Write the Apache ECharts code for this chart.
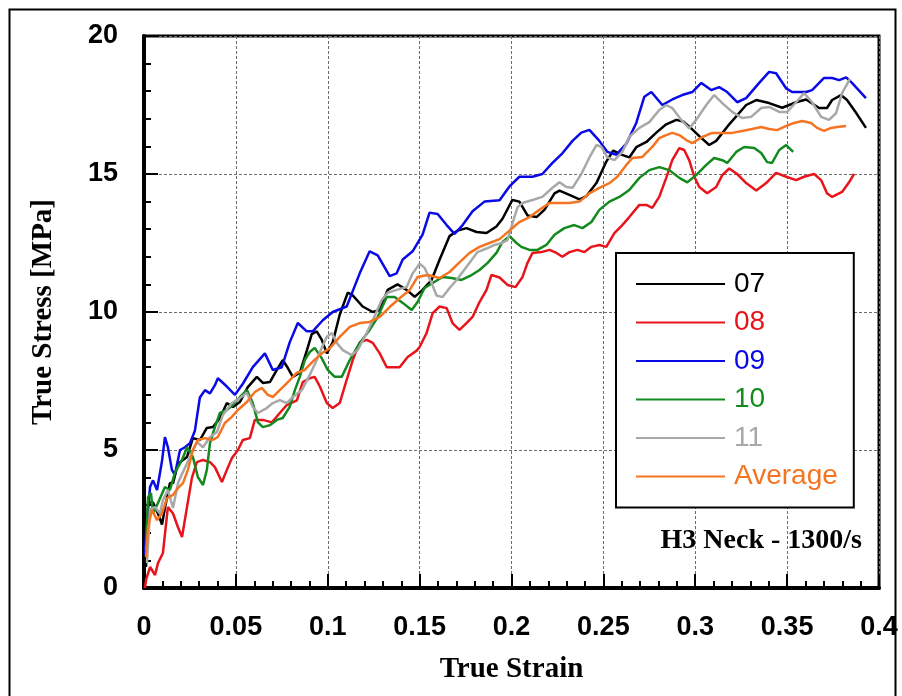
<!DOCTYPE html>
<html>
<head>
<meta charset="utf-8">
<script src="https://cdn.jsdelivr.net/npm/echarts@6/dist/echarts.min.js"></script>
<style>html,body{margin:0;padding:0;background:#fff}#c{width:902px;height:696px}</style>
</head>
<body>
<div id="c"></div>
<script>
const seriesNames = ['07', '08', '09', '10', '11', 'Average'];
const seriesColors = ['#000000', '#e8141c', '#0a0ae6', '#128a1e', '#a8a8a8', '#f57421'];
const xTicks = [0, 0.05, 0.1, 0.15, 0.2, 0.25, 0.3, 0.35, 0.4];
const yTicks = [0, 5, 10, 15, 20];

const s07 = [[0.0011,0.76],[0.0022,3.1],[0.0049,3.1],[0.0076,2.7],[0.0098,2.3],[0.0114,2.9],[0.0141,3.8],[0.0158,3.8],[0.0185,4.5],[0.0234,4.75],[0.0266,5.43],[0.0304,5.36],[0.0342,5.8],[0.0375,5.83],[0.0413,6.15],[0.0451,6.7],[0.0484,6.56],[0.0522,6.74],[0.0565,7.28],[0.0614,7.65],[0.0647,7.43],[0.0685,7.46],[0.0723,7.9],[0.0755,8.26],[0.0783,7.97],[0.081,7.65],[0.0848,7.8],[0.0886,8.6],[0.0913,9.2],[0.094,9.3],[0.0967,9.0],[0.0995,8.5],[0.1027,8.9],[0.1065,9.9],[0.1109,10.7],[0.1136,10.6],[0.119,10.2],[0.1245,10.0],[0.1283,10.07],[0.1326,10.8],[0.138,11.0],[0.1429,10.8],[0.1473,10.55],[0.1516,10.8],[0.1565,11.16],[0.1609,11.9],[0.1663,12.75],[0.1707,12.95],[0.1755,13.04],[0.181,12.9],[0.1864,12.86],[0.1918,13.1],[0.1951,13.38],[0.2005,14.06],[0.2043,14.0],[0.2087,13.5],[0.2136,13.44],[0.2179,13.7],[0.2234,14.3],[0.2261,14.4],[0.2315,14.24],[0.237,14.08],[0.2408,14.2],[0.2462,14.67],[0.2516,15.45],[0.2554,15.85],[0.2598,15.7],[0.2641,15.6],[0.2679,15.97],[0.2734,16.16],[0.2788,16.5],[0.2842,16.8],[0.2897,16.96],[0.2935,16.9],[0.2978,16.65],[0.3022,16.37],[0.3076,16.05],[0.3114,16.2],[0.3185,16.8],[0.3277,17.5],[0.3332,17.68],[0.3402,17.57],[0.3473,17.4],[0.3549,17.6],[0.3603,17.7],[0.3674,17.39],[0.3717,17.39],[0.3745,17.68],[0.3793,17.86],[0.3826,17.68],[0.3875,17.22],[0.3929,16.67]];

const s08 = [[0.0005,0.0],[0.0011,0.29],[0.0033,0.76],[0.006,0.47],[0.0076,0.9],[0.0103,1.27],[0.013,2.93],[0.0158,2.7],[0.0185,2.2],[0.0207,1.85],[0.0234,2.93],[0.0261,4.0],[0.0288,4.56],[0.0321,4.64],[0.0359,4.56],[0.0386,4.38],[0.0424,3.84],[0.0451,4.28],[0.0478,4.7],[0.0511,5.0],[0.0538,5.36],[0.0576,5.43],[0.0603,6.09],[0.0647,6.09],[0.0696,6.0],[0.0739,6.34],[0.0777,6.63],[0.0832,6.8],[0.0864,7.46],[0.0902,7.6],[0.0929,7.65],[0.0957,7.3],[0.0995,6.7],[0.1027,6.52],[0.1065,6.7],[0.1103,7.54],[0.1136,8.26],[0.1174,8.9],[0.1212,8.99],[0.1245,8.88],[0.1283,8.5],[0.1321,8.0],[0.1391,8.0],[0.1435,8.37],[0.1484,8.6],[0.15,8.73],[0.1538,9.24],[0.1571,9.96],[0.1609,10.2],[0.1647,10.14],[0.1679,9.6],[0.1717,9.35],[0.1755,9.6],[0.1788,9.82],[0.1826,10.36],[0.1864,10.8],[0.1891,11.34],[0.1935,11.25],[0.1978,10.98],[0.2022,10.9],[0.206,11.27],[0.2087,11.78],[0.2114,12.14],[0.2163,12.17],[0.2207,12.25],[0.2245,12.14],[0.2277,12.0],[0.2315,12.17],[0.2359,12.25],[0.2397,12.17],[0.2435,12.36],[0.2478,12.43],[0.2516,12.36],[0.256,12.86],[0.2603,13.15],[0.2641,13.44],[0.2696,13.88],[0.2734,13.88],[0.2766,13.77],[0.2804,14.17],[0.2842,14.86],[0.2875,15.5],[0.2913,15.94],[0.294,15.87],[0.2967,15.5],[0.2995,14.9],[0.3022,14.53],[0.3065,14.3],[0.3114,14.53],[0.3147,14.96],[0.3185,15.2],[0.3228,15.0],[0.3277,14.67],[0.3332,14.4],[0.3386,14.67],[0.344,15.04],[0.3495,14.9],[0.3549,14.78],[0.3592,14.9],[0.3647,15.0],[0.3685,14.78],[0.3717,14.3],[0.3745,14.17],[0.3799,14.35],[0.3837,14.7],[0.3864,15.0]];

const s09 = [[0.0005,1.2],[0.0011,2.0],[0.0033,3.66],[0.0049,3.9],[0.0071,3.55],[0.0098,4.6],[0.0114,5.47],[0.013,5.1],[0.0152,4.28],[0.0168,4.1],[0.0196,5.0],[0.0223,5.1],[0.025,5.25],[0.0277,5.7],[0.0304,6.9],[0.0332,7.17],[0.0359,7.05],[0.0386,7.35],[0.0402,7.6],[0.0451,7.3],[0.0495,7.0],[0.0538,7.4],[0.0592,8.0],[0.0658,8.5],[0.0701,7.9],[0.075,8.0],[0.0793,8.9],[0.0837,9.6],[0.0886,9.3],[0.0918,9.3],[0.0973,9.7],[0.1027,10.0],[0.1103,10.2],[0.1174,11.4],[0.1228,12.2],[0.1272,12.05],[0.1337,11.3],[0.1375,11.4],[0.1408,11.9],[0.1462,12.2],[0.1516,12.8],[0.1554,13.6],[0.1598,13.55],[0.1647,13.15],[0.169,12.83],[0.1734,13.15],[0.1788,13.65],[0.1853,14.0],[0.1935,14.05],[0.1989,14.55],[0.2043,14.9],[0.2114,14.9],[0.2168,15.0],[0.2223,15.4],[0.2277,15.75],[0.2332,16.2],[0.238,16.5],[0.2424,16.6],[0.2478,16.2],[0.2522,15.8],[0.2571,15.7],[0.2625,16.1],[0.2679,16.85],[0.2723,17.8],[0.2761,17.97],[0.2821,17.5],[0.2875,17.7],[0.2929,17.86],[0.2984,17.97],[0.3033,18.3],[0.3087,18.04],[0.313,18.15],[0.3174,17.97],[0.3228,17.6],[0.3277,17.75],[0.3348,18.3],[0.3402,18.7],[0.344,18.65],[0.3495,18.1],[0.3527,17.97],[0.3603,17.97],[0.3636,18.04],[0.3701,18.48],[0.3745,18.48],[0.3783,18.4],[0.3821,18.5],[0.3853,18.3],[0.3929,17.75]];

const s10 = [[0.0011,1.38],[0.0022,3.3],[0.0038,3.44],[0.0049,2.7],[0.0076,3.08],[0.0114,3.66],[0.0141,3.55],[0.0168,4.17],[0.0207,4.64],[0.0234,5.1],[0.0266,4.75],[0.0293,4.02],[0.0321,3.73],[0.0342,4.28],[0.0359,5.25],[0.0386,5.83],[0.0413,6.34],[0.0451,6.45],[0.0484,6.63],[0.0522,6.92],[0.056,7.17],[0.0592,6.7],[0.062,6.0],[0.0647,5.83],[0.0685,5.9],[0.0723,6.09],[0.0755,6.16],[0.0793,6.56],[0.0821,7.17],[0.0848,7.65],[0.0875,8.26],[0.0902,8.55],[0.0929,8.7],[0.0967,8.33],[0.1,7.9],[0.1038,7.65],[0.1076,7.65],[0.112,8.26],[0.1174,8.88],[0.1228,9.35],[0.1272,9.82],[0.1321,10.54],[0.1364,10.54],[0.1408,10.33],[0.1457,10.07],[0.1489,10.36],[0.1527,10.87],[0.1571,11.05],[0.1625,11.27],[0.1674,11.23],[0.1728,11.16],[0.1783,11.34],[0.1826,11.52],[0.187,11.78],[0.1918,12.14],[0.1951,12.54],[0.1989,12.75],[0.2027,12.5],[0.2054,12.36],[0.2098,12.25],[0.2141,12.25],[0.219,12.43],[0.2234,12.8],[0.2288,13.04],[0.2342,13.15],[0.2386,13.04],[0.2435,13.26],[0.2478,13.7],[0.2533,14.0],[0.2587,14.17],[0.2641,14.42],[0.2696,14.86],[0.275,15.14],[0.2804,15.25],[0.2859,15.14],[0.2913,14.86],[0.2957,14.7],[0.3005,14.96],[0.306,15.33],[0.3103,15.58],[0.3147,15.5],[0.3174,15.4],[0.3223,15.8],[0.3266,15.98],[0.3321,15.94],[0.3359,15.76],[0.3391,15.43],[0.3418,15.4],[0.3457,15.87],[0.3495,16.05],[0.3533,15.8]];

const s11 = [[0.0016,0.9],[0.0033,2.83],[0.006,2.93],[0.0087,2.7],[0.0103,3.19],[0.013,3.55],[0.0158,2.9],[0.0185,3.8],[0.0212,4.2],[0.025,4.75],[0.0288,5.29],[0.0321,5.1],[0.0359,5.47],[0.0397,5.65],[0.0429,6.27],[0.0478,6.7],[0.0522,6.88],[0.056,7.07],[0.0592,6.56],[0.062,6.34],[0.0668,6.52],[0.0701,6.7],[0.0739,6.81],[0.0777,6.7],[0.081,6.92],[0.0859,7.17],[0.0902,7.72],[0.094,8.26],[0.0967,8.7],[0.0995,9.1],[0.1022,9.24],[0.1049,8.88],[0.1082,8.62],[0.113,8.44],[0.1163,8.62],[0.1212,9.24],[0.1245,9.7],[0.1293,10.43],[0.1326,10.7],[0.1375,10.8],[0.1429,10.9],[0.1462,11.4],[0.15,11.75],[0.1527,11.6],[0.1565,11.05],[0.1592,10.6],[0.1625,10.54],[0.1663,10.87],[0.1701,11.16],[0.1734,11.45],[0.1783,11.88],[0.1815,12.17],[0.1864,12.3],[0.1908,12.43],[0.1946,12.5],[0.1978,12.6],[0.2005,13.2],[0.2033,13.8],[0.206,13.95],[0.2114,14.06],[0.2168,14.17],[0.2223,14.5],[0.2261,14.7],[0.2299,14.53],[0.2332,14.5],[0.238,15.0],[0.2424,15.6],[0.2462,16.05],[0.2489,15.98],[0.2522,15.6],[0.256,15.5],[0.2603,15.8],[0.2641,16.35],[0.2696,16.67],[0.275,16.88],[0.2804,17.32],[0.2842,17.5],[0.2875,17.39],[0.2924,16.96],[0.2967,16.65],[0.3005,16.96],[0.306,17.5],[0.3103,17.86],[0.3147,17.57],[0.3201,17.25],[0.3255,17.03],[0.3304,17.07],[0.3359,17.39],[0.3402,17.43],[0.3457,17.25],[0.35,17.25],[0.3549,17.6],[0.3592,17.93],[0.3636,17.6],[0.3685,17.07],[0.3728,16.96],[0.3766,17.2],[0.3799,17.93],[0.3842,18.45]];

const sAvg = [[0.0011,1.12],[0.0022,2.2],[0.0043,2.83],[0.0071,2.46],[0.0098,2.7],[0.0125,3.26],[0.0158,3.37],[0.0185,3.62],[0.0212,3.8],[0.0239,4.28],[0.0266,5.0],[0.0293,5.36],[0.0332,5.43],[0.037,5.36],[0.0402,5.47],[0.044,5.98],[0.0478,6.2],[0.0511,6.45],[0.056,6.74],[0.0603,7.1],[0.0641,7.25],[0.0674,7.0],[0.0701,6.92],[0.0739,7.17],[0.0783,7.46],[0.0832,7.8],[0.0875,7.9],[0.0918,8.2],[0.0967,8.5],[0.1011,8.68],[0.1065,9.1],[0.112,9.46],[0.1174,9.6],[0.1228,9.64],[0.1283,9.82],[0.1337,10.18],[0.1391,10.5],[0.1446,10.8],[0.1489,11.27],[0.1543,11.34],[0.1609,11.23],[0.1663,11.45],[0.1717,11.8],[0.1772,12.14],[0.1826,12.36],[0.188,12.5],[0.1935,12.64],[0.1989,12.95],[0.2043,13.26],[0.2098,13.44],[0.2152,13.7],[0.2207,13.95],[0.2315,13.95],[0.237,14.0],[0.2424,14.3],[0.2478,14.5],[0.2533,14.67],[0.2576,14.9],[0.2625,15.33],[0.2658,15.58],[0.2712,15.62],[0.2766,15.98],[0.2804,16.3],[0.2842,16.41],[0.2875,16.49],[0.2913,16.41],[0.2951,16.23],[0.2984,16.12],[0.3038,16.34],[0.3092,16.49],[0.3201,16.49],[0.3255,16.56],[0.331,16.63],[0.3359,16.7],[0.3402,16.63],[0.3446,16.59],[0.3495,16.74],[0.3538,16.85],[0.3582,16.92],[0.363,16.85],[0.3663,16.67],[0.3701,16.56],[0.3739,16.67],[0.3772,16.7],[0.3821,16.74]];

const allData = [s07, s08, s09, s10, s11, sAvg];

const chart = echarts.init(document.getElementById('c'), null, {renderer: 'canvas'});
const sansBold = {fontFamily: 'Liberation Sans, Arial, sans-serif', fontWeight: 'bold', fontSize: 27, color: '#000'};
const serifBold = {fontFamily: 'Liberation Serif, Times New Roman, serif', fontWeight: 'bold', fontSize: 29, color: '#000'};
const fmt = v => String(+(+v).toFixed(2));

const option = {
  animation: false,
  backgroundColor: '#fff',
  grid: {left: 144, right: 23, top: 36, bottom: 108, show: true, borderColor: '#000', borderWidth: 3, backgroundColor: 'transparent'},
  xAxis: {
    type: 'value', min: xTicks[0], max: xTicks[xTicks.length - 1], interval: 0.05,
    name: 'True Strain', nameLocation: 'middle', nameGap: 67,
    nameTextStyle: serifBold,
    axisLine: {show: true, onZero: false, lineStyle: {color: '#000', width: 4}},
    axisTick: {show: true, inside: true, length: 14, lineStyle: {color: '#000', width: 2}},
    minorTick: {show: true, splitNumber: 5, length: 7, lineStyle: {color: '#000', width: 2}},
    axisLabel: Object.assign({margin: 26, formatter: fmt}, sansBold),
    splitLine: {show: true, lineStyle: {color: '#6e6e6e', width: 1, type: [3, 2]}},
    minorSplitLine: {show: false}
  },
  yAxis: {
    type: 'value', min: yTicks[0], max: yTicks[yTicks.length - 1], interval: 5,
    name: 'True Stress [MPa]', nameLocation: 'middle', nameGap: 86, nameRotate: 90,
    nameTextStyle: serifBold,
    axisLine: {show: true, onZero: false, lineStyle: {color: '#000', width: 4}},
    axisTick: {show: true, inside: true, length: 14, lineStyle: {color: '#000', width: 2}},
    minorTick: {show: true, splitNumber: 5, length: 7, lineStyle: {color: '#000', width: 2}},
    axisLabel: Object.assign({margin: 26}, sansBold),
    splitLine: {show: true, lineStyle: {color: '#6e6e6e', width: 1, type: [3, 2]}},
    minorSplitLine: {show: false}
  },
  legend: {
    orient: 'vertical', left: 616, top: 253,
    backgroundColor: '#fff', borderColor: '#000', borderWidth: 2,
    padding: [17, 16, 17, 20],
    itemWidth: 89, itemHeight: 2, itemGap: 10.5, icon: 'rect',
    textStyle: {fontFamily: 'Liberation Sans, Arial, sans-serif', fontSize: 28, lineHeight: 28, padding: [0, 0, 0, 4]},
    data: seriesNames.map((n, i) => ({name: n, textStyle: {color: seriesColors[i]}}))
  },
  graphic: [
    {type: 'rect', left: 7, top: 7, shape: {width: 886, height: 720}, style: {fill: 'none', stroke: '#000', lineWidth: 2}, silent: true, z: -1},
    {type: 'text', right: 40, top: 527, style: {text: 'H3 Neck - 1300/s', font: 'bold 28px "Liberation Serif", serif', fill: '#000'}}
  ],
  series: seriesNames.map((n, i) => ({
    name: n, type: 'line', data: allData[i], showSymbol: false, symbol: 'none',
    lineStyle: {color: seriesColors[i], width: 2.5}, itemStyle: {color: seriesColors[i]},
    clip: true, z: 3 + (i === 5 ? 1 : 0)
  }))
};
chart.setOption(option);
</script>
</body>
</html>
